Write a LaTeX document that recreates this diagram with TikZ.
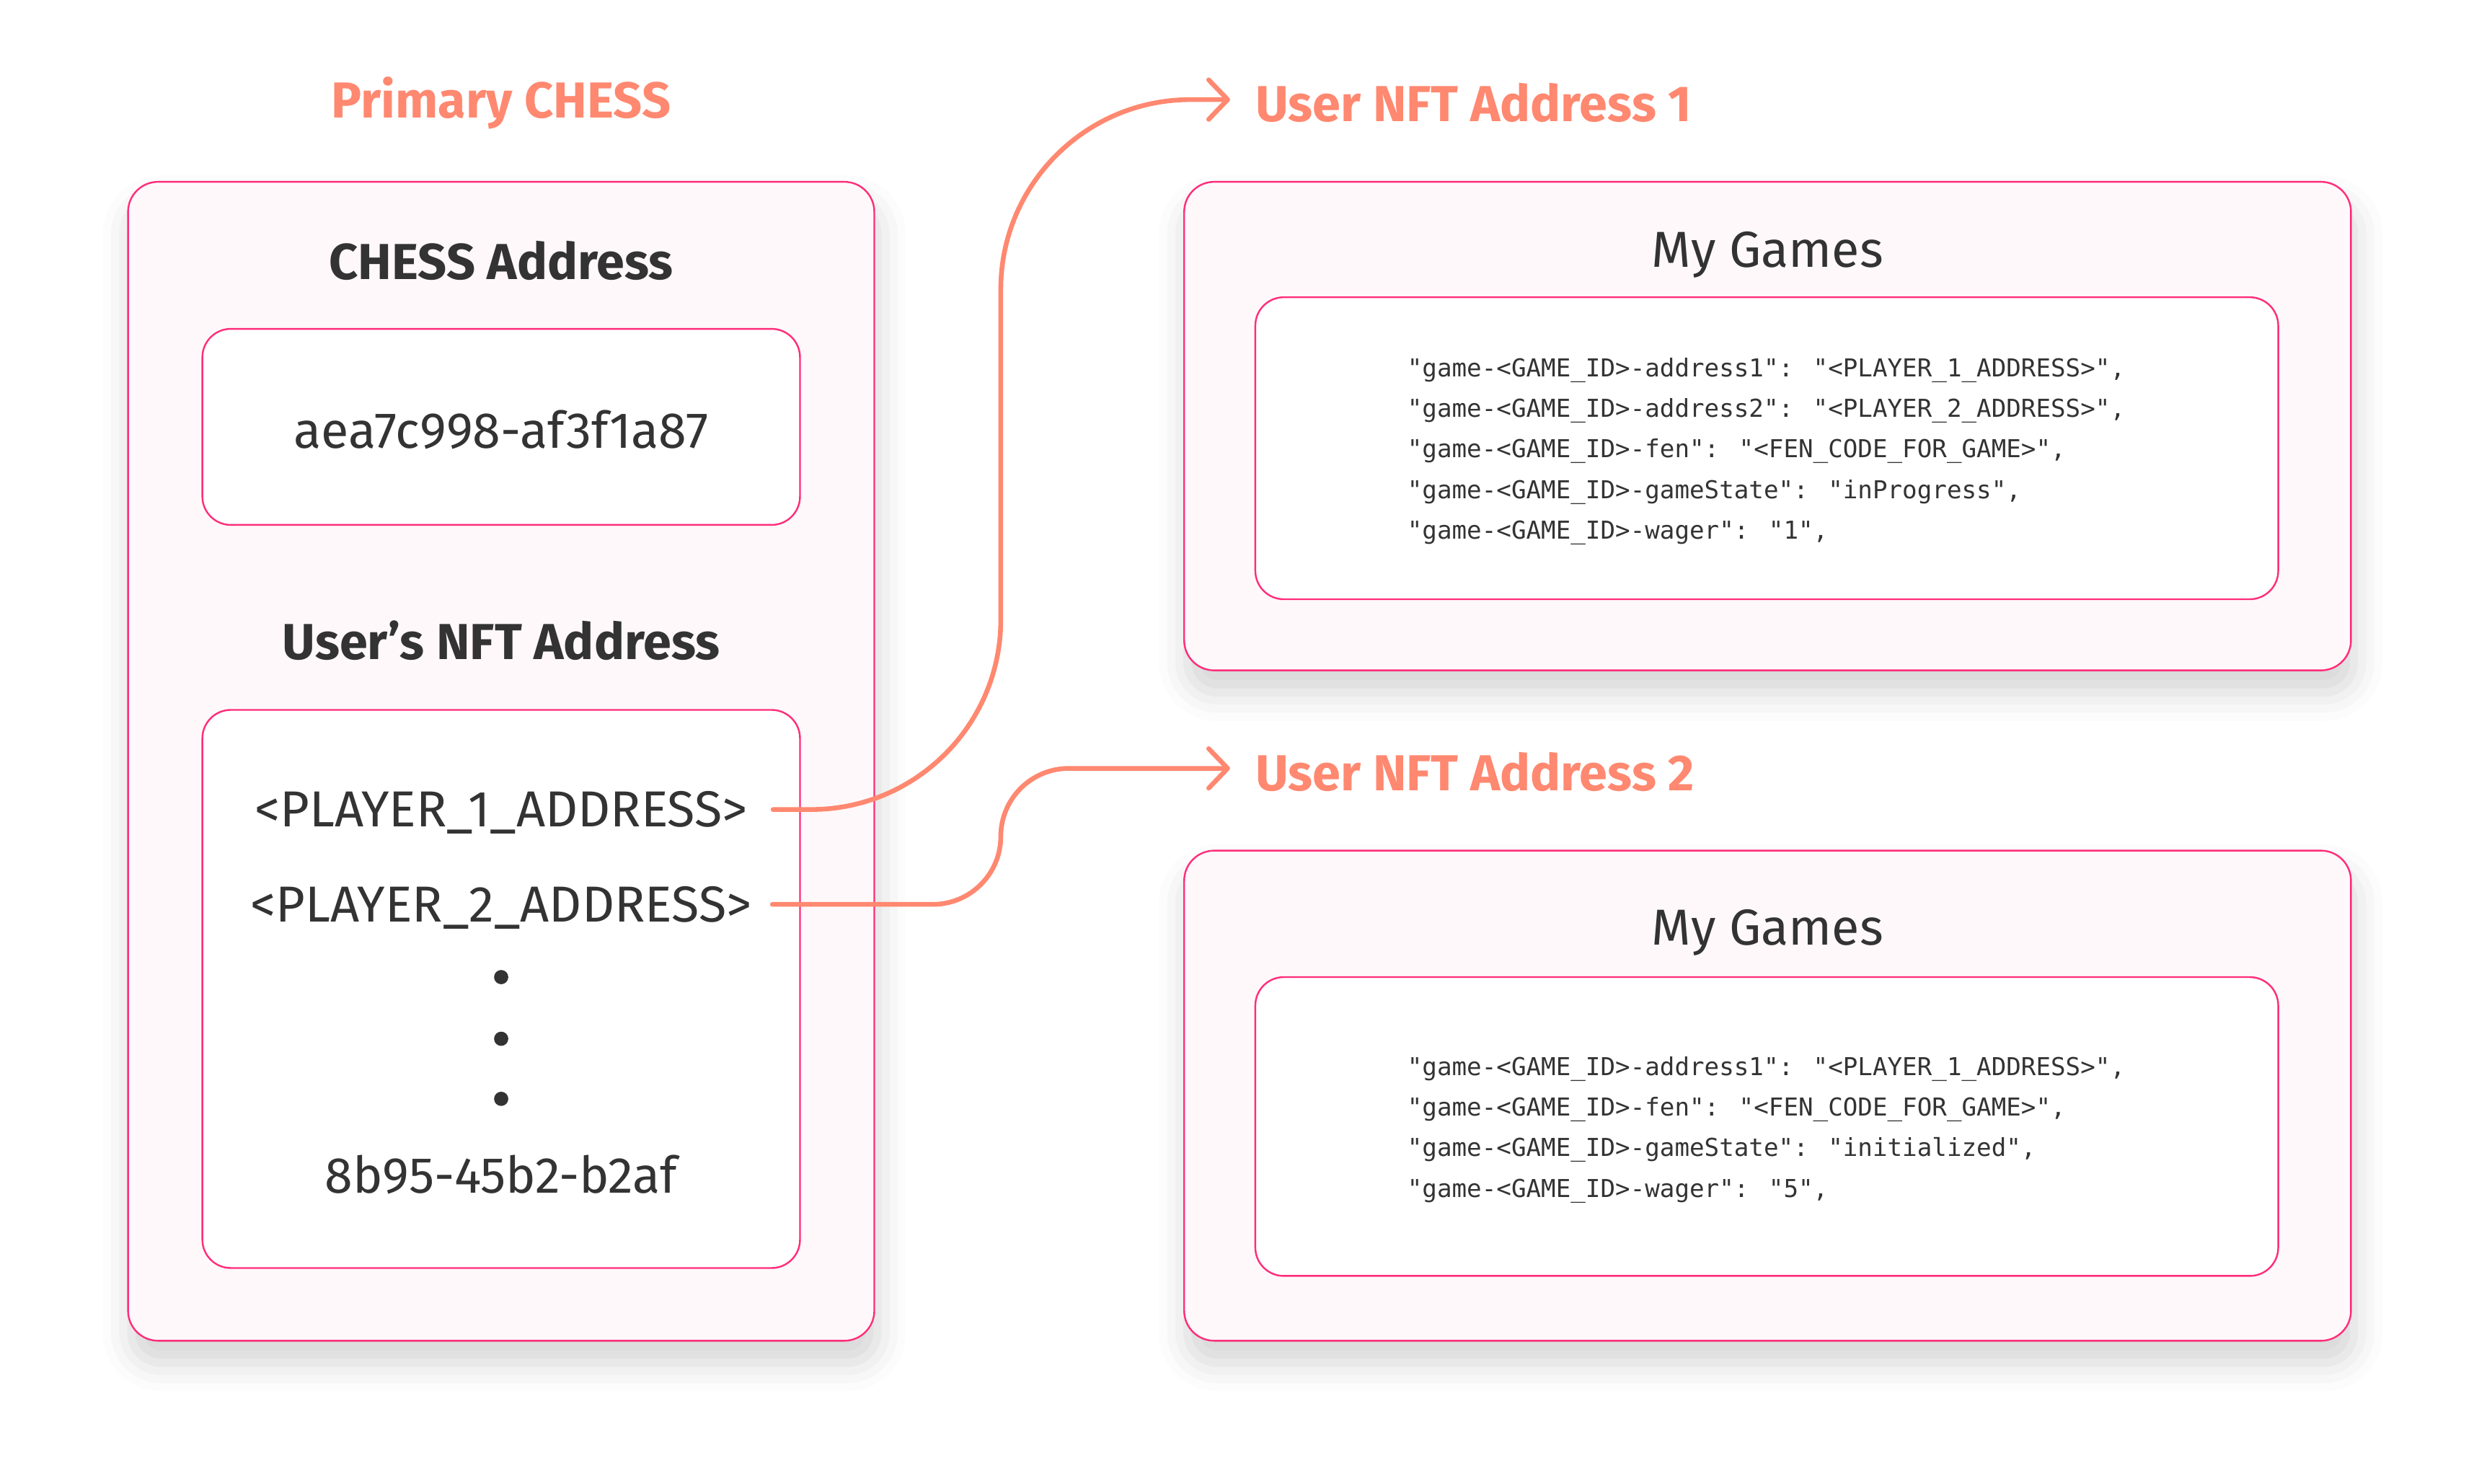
\documentclass[tikz,border=0pt]{standalone}
\usepackage{fontspec}
\setmainfont{Fira Sans}
\newfontfamily\codefont{DejaVu Sans Mono}
\usepackage{tikz}
\usetikzlibrary{arrows.meta,positioning,shadows.blur}

\definecolor{coral}{HTML}{FF8870}
\definecolor{pinkline}{HTML}{FF2D7A}
\definecolor{palepink}{HTML}{FFF8FA}
\definecolor{ink}{HTML}{333333}

\begin{document}
\begin{tikzpicture}[x=1pt,y=-1pt,
	panel/.style={rectangle,draw=pinkline,line width=1.1pt,fill=palepink,rounded corners=19pt,
		blur shadow={shadow xshift=2pt,shadow yshift=-14pt,shadow blur radius=18pt,shadow opacity=17}},
	card/.style={rectangle,draw=pinkline,line width=1.1pt,fill=white,rounded corners=18pt},
	link/.style={draw=coral,line width=3pt,line cap=round}]
	\useasboundingbox (0,0) rectangle (1568,938.6);

	\begin{scope}[every node/.style={inner sep=0pt}]
		\node[panel,minimum width=472pt,minimum height=733pt] (chess) at (317,481.5) {};
		\node[card,minimum width=378pt,minimum height=124pt] (addrbox) at (317,270) {};
		\node[card,minimum width=378pt,minimum height=353pt] (nftbox) at (317,625.5) {};
		\node[panel,minimum width=738pt,minimum height=309pt] (games1) at (1118,269.5) {};
		\node[card,minimum width=647pt,minimum height=191pt] (code1) at (1117.5,283.5) {};
		\node[panel,minimum width=738pt,minimum height=310pt] (games2) at (1118,693) {};
		\node[card,minimum width=647pt,minimum height=189pt] (code2) at (1117.5,712.5) {};
	\end{scope}

	\begin{scope}[every node/.style={inner sep=0pt,text=ink,font=\fontsize{32}{38}\selectfont}]
		\node[text=coral,font=\bfseries\fontsize{32}{38}\selectfont] (primary) at (317,65) {Primary CHESS};
		\node[font=\bfseries\fontsize{32}{38}\selectfont] (chesshead) at (317,165) {CHESS Address};
		\node (chessid) at (317,272) {aea7c998-af3f1a87};
		\node[font=\bfseries\fontsize{32}{38}\selectfont] (nfthead) at (317,405) {User’s NFT Address};
		\node (p1) at (317,514) {<PLAYER\_1\_ADDRESS>};
		\node (p2) at (317,574) {<PLAYER\_2\_ADDRESS>};
		\foreach \y [count=\i] in {618,657,695}
			\node[circle,fill=ink,minimum size=9pt] (dot\i) at (317,\y) {};
		\node (pn) at (317,743) {8b95-45b2-b2af};
		\node (mygames1) at (1118,161) {My Games};
		\node (mygames2) at (1118,590) {My Games};
		\node[text=coral,font=\bfseries\fontsize{32}{38}\selectfont,anchor=west] (nft1) at (794,65) {User NFT Address 1};
		\node[text=coral,font=\bfseries\fontsize{32}{38}\selectfont,anchor=west] (nft2) at (794,488) {User NFT Address 2};
	\end{scope}

	\begin{scope}[every node/.style={inner sep=0pt,text=ink,align=left,anchor=west,font=\codefont\fontsize{15.6}{25.7}\selectfont}]
		\node (json1) at (890,285.5) {"game-<GAME\_ID>-address1": "<PLAYER\_1\_ADDRESS>",\\
			"game-<GAME\_ID>-address2": "<PLAYER\_2\_ADDRESS>",\\
			"game-<GAME\_ID>-fen": "<FEN\_CODE\_FOR\_GAME>",\\
			"game-<GAME\_ID>-gameState": "inProgress",\\
			"game-<GAME\_ID>-wager": "1",};
		\node (json2) at (890,714.5) {"game-<GAME\_ID>-address1": "<PLAYER\_1\_ADDRESS>",\\
			"game-<GAME\_ID>-fen": "<FEN\_CODE\_FOR\_GAME>",\\
			"game-<GAME\_ID>-gameState": "initialized",\\
			"game-<GAME\_ID>-wager": "5",};
	\end{scope}

	\coordinate (bus) at (633,0);
	\begin{scope}[-{Straight Barb[length=12pt,width=25pt,line cap=round,line join=round]}]
		\draw[link,rounded corners=120pt] (p1.east) ++(16,-2) -- ([yshift=2pt]p1.east -| bus) |- ([xshift=-16pt,yshift=2pt]nft1.west);
		\draw[link,rounded corners=43pt] (p2.east) ++(13,-2) -- ([yshift=2pt]p2.east -| bus) |- ([xshift=-16pt,yshift=2pt]nft2.west);
	\end{scope}
\end{tikzpicture}
\end{document}
